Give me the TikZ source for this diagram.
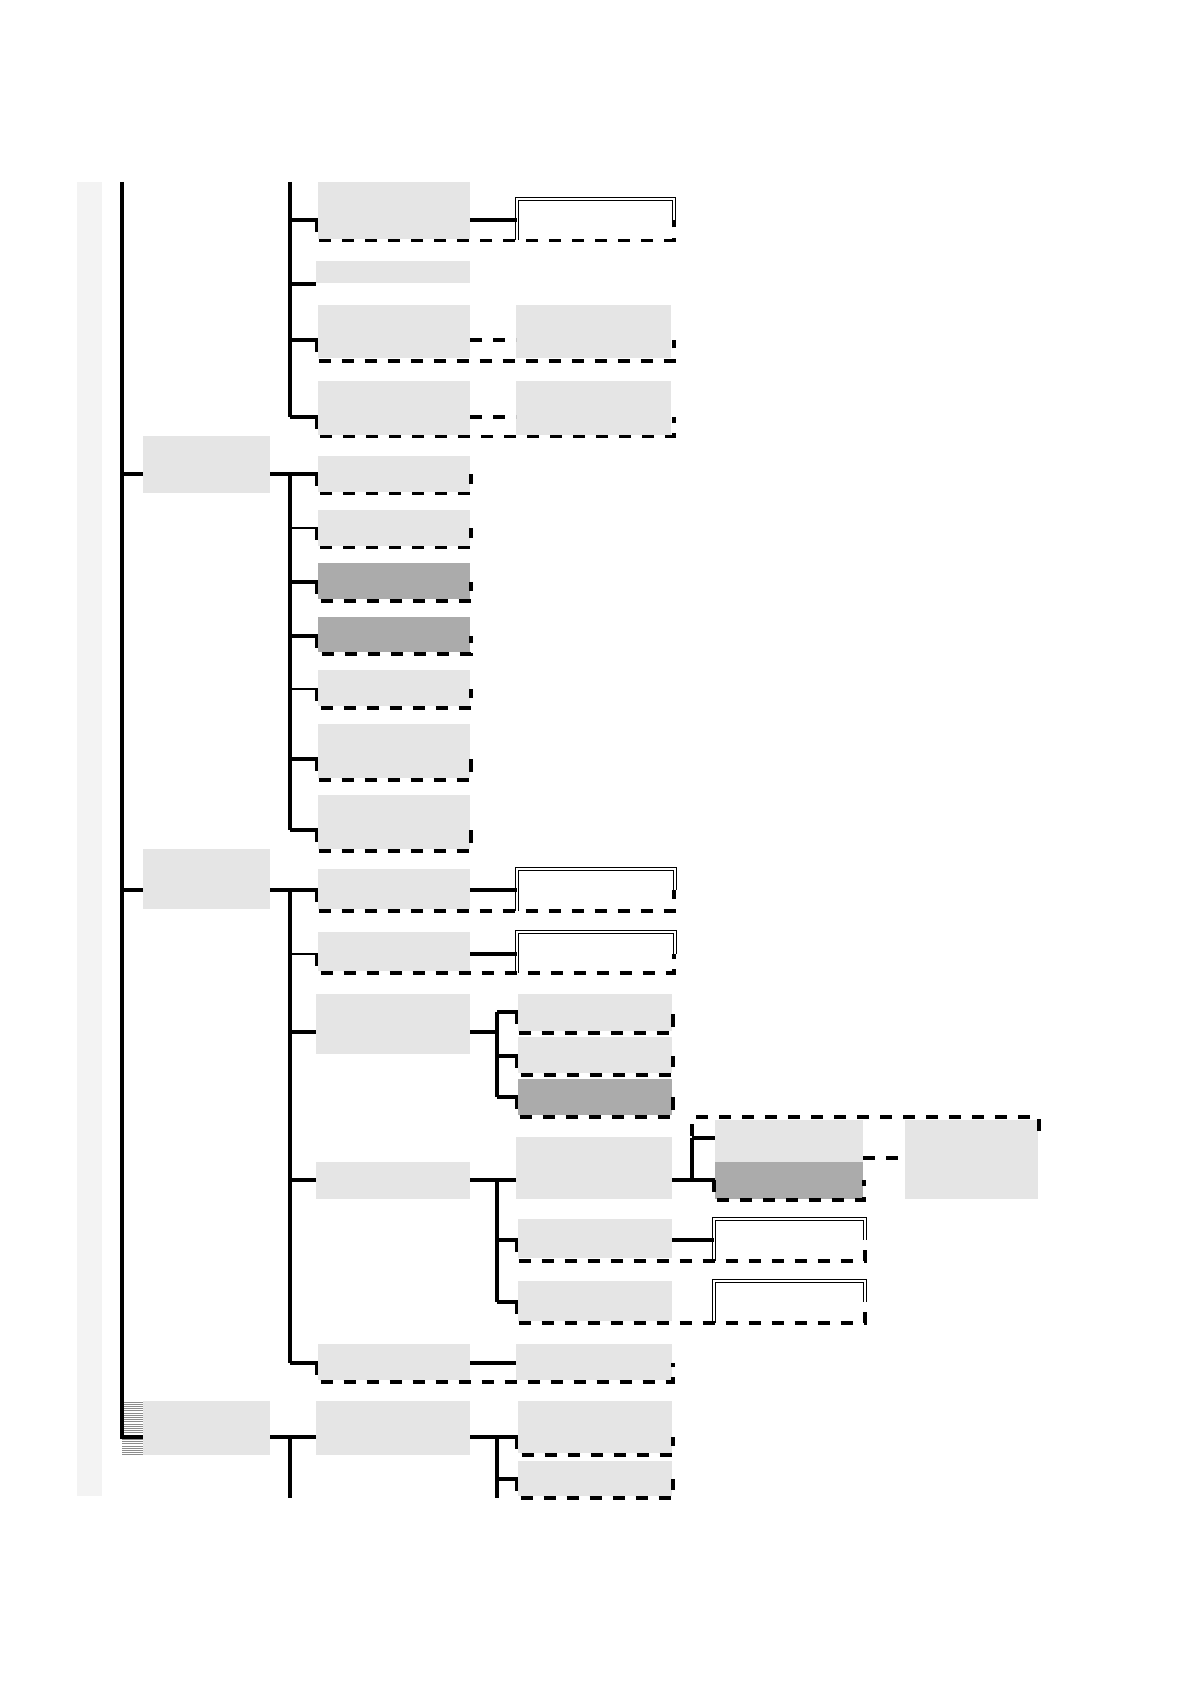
\documentclass[tikz,border=0pt]{standalone}
\usetikzlibrary{fit}
\definecolor{boxgray}{HTML}{E5E5E5}
\definecolor{stripgray}{HTML}{F3F3F3}
\definecolor{darkgray2}{HTML}{ABABAB}
\definecolor{hatchline}{HTML}{8C8C8C}
\newcommand\ubox[4]{\draw[dsh] (#1,#3) -- (#1,#4) -- (#2,#4) -- (#2,#3);}
\begin{document}
\begin{tikzpicture}[x=0.5pt,y=-0.5pt,
  gbox/.style={fill=boxgray, draw=none, inner sep=0pt, outer sep=0pt},
  hbox/.style={fill=darkgray2, draw=none, inner sep=0pt, outer sep=0pt},
  conn/.style={line width=1.6pt},
  thinconn/.style={line width=1.1pt},
  dsh/.style={line width=1.75pt, dash pattern=on 6.2pt off 5.3pt},
  dbl/.style={draw=black, double=white, line width=0.5pt, double distance=0.7pt}]
\useasboundingbox (0,0) rectangle (1190,1684);
% left strip
\node[fill=stripgray, draw=none, inner sep=0pt, fit={(77,182) (102,1496)}] (strip) {};
% level-1 boxes
\node[gbox, fit={(143,436) (270,493)}] (L1a) {};
\node[gbox, fit={(143,849) (270,909)}] (L1b) {};
\node[gbox, fit={(143,1401) (270,1455)}] (L1c) {};
\foreach \yy in {1402,1404.2,...,1455} \draw[hatchline, line width=0.45pt] (122,\yy) -- (143,\yy);
% ---------- group 1 ----------
\node[gbox, fit={(318,182) (470,239)}] (g1a) {};
\node[gbox, fit={(316,261) (470,283)}] (g1b) {};
\node[gbox, fit={(318,305) (470,358)}] (g1c) {};
\node[gbox, fit={(516,305) (671,358)}] (g1cx) {};
\node[gbox, fit={(318,381) (470,435)}] (g1d) {};
\node[gbox, fit={(516,381) (671,435)}] (g1dx) {};
\coordinate (g1aD) at (517,220);
\draw[dbl] (517,240) -- (517,199) -- (674,199) -- (674,220);
% ---------- group 2 ----------
\node[gbox, fit={(318,456) (470,492)}] (g2a) {};
\node[gbox, fit={(318,510) (470,546)}] (g2b) {};
\node[hbox, fit={(318,563) (470,599)}] (g2c) {};
\node[hbox, fit={(318,617) (470,652)}] (g2d) {};
\node[gbox, fit={(318,670) (470,706)}] (g2e) {};
\node[gbox, fit={(318,724) (470,778)}] (g2f) {};
\node[gbox, fit={(318,795) (470,849)}] (g2g) {};
% ---------- group 3 ----------
\node[gbox, fit={(318,869) (470,909)}] (g3a) {};
\node[gbox, fit={(318,932) (470,971)}] (g3b) {};
\node[gbox, fit={(316,994) (470,1054)}] (g3c) {};
\node[gbox, fit={(518,994) (672,1031)}] (g3c1) {};
\node[gbox, fit={(518,1037) (672,1073)}] (g3c2) {};
\node[hbox, fit={(518,1079) (672,1115)}] (g3c3) {};
\node[gbox, fit={(316,1162) (470,1199)}] (g3d) {};
\node[gbox, fit={(516,1137) (672,1199)}] (g3d1) {};
\node[gbox, fit={(715,1120) (863,1162)}] (g3d1a) {};
\node[hbox, fit={(715,1162) (863,1199)}] (g3d1b) {};
\node[gbox, fit={(905,1120) (1038,1199)}] (g3d1c) {};
\node[gbox, fit={(518,1219) (672,1258)}] (g3d2) {};
\node[gbox, fit={(518,1281) (672,1321)}] (g3d3) {};
\node[gbox, fit={(318,1344) (470,1380)}] (g3e) {};
\node[gbox, fit={(516,1344) (672,1380)}] (g3e1) {};
\draw[dbl] (517,911) -- (517,869) -- (675,869) -- (675,890);
\draw[dbl] (517,973) -- (517,932) -- (675,932) -- (675,954);
\draw[dbl] (714,1261) -- (714,1219) -- (865,1219) -- (865,1240);
\draw[dbl] (714,1323) -- (714,1281) -- (865,1281) -- (865,1302);
% ---------- group 4 ----------
\node[gbox, fit={(316,1401) (470,1455)}] (g4a) {};
\node[gbox, fit={(518,1401) (672,1453)}] (g4a1) {};
\node[gbox, fit={(518,1461) (672,1496)}] (g4a2) {};
% ---------- dashed outlines ----------
\ubox{316.5}{674}{220}{240.5}
\ubox{316.5}{674}{340}{361}
\ubox{316.5}{674}{417}{436.5}
\ubox{316.5}{471}{474}{493.5}
\ubox{316.5}{471}{528}{547.5}
\ubox{316.5}{471}{582}{601}
\ubox{316.5}{471}{636}{654}
\ubox{316.5}{471}{689}{708}
\ubox{316.5}{471}{759}{780}
\ubox{316.5}{471}{830}{851}
\ubox{316.5}{674}{890}{911}
\ubox{316.5}{674}{954}{973}
\ubox{516.5}{673}{1012}{1033}
\ubox{516.5}{673}{1056}{1075}
\ubox{516.5}{673}{1097}{1117}
\ubox{714}{864}{1180}{1200}
\draw[dsh] (692,1136) -- (692,1117) -- (1039,1117) -- (1039,1136);
\ubox{516.5}{865}{1240}{1261}
\ubox{516.5}{865}{1302}{1323}
\ubox{316.5}{673}{1363}{1382}
\ubox{516.5}{673}{1437}{1455}
\ubox{516.5}{673}{1479}{1498}
% dashed connectors
\draw[dsh] (g1c.east |- 0,340) -- (g1cx.west |- 0,340);
\draw[dsh] (g1d.east |- 0,417) -- (g1dx.west |- 0,417);
\draw[dsh] (g3d1a.east |- 0,1158) -- (g3d1c.west |- 0,1158);
% ---------- solid connectors ----------
\draw[conn] (122,182) -- (122,1437) -- (L1c.west |- 0,1437);
\draw[conn] (122,474) -- (L1a.west |- 0,474);
\draw[conn] (122,890) -- (L1b.west |- 0,890);
% group 1 bus
\draw[conn] (290,182) -- (290,417);
\draw[conn] (290,220) -- (g1a.west |- 0,220);
\draw[conn] (290,284) -- (g1b.west |- 0,284);
\draw[conn] (290,340) -- (g1c.west |- 0,340);
\draw[conn] (290,417) -- (g1d.west |- 0,417);
\draw[conn] (g1a.east |- 0,220) -- (g1aD);
% group 2 bus
\draw[conn] (L1a.east |- 0,474) -- (g2a.west |- 0,474);
\draw[conn] (290,474) -- (290,830);
\draw[thinconn] (290,528) -- (g2b.west |- 0,528);
\draw[conn] (290,582) -- (g2c.west |- 0,582);
\draw[conn] (290,636) -- (g2d.west |- 0,636);
\draw[thinconn] (290,689) -- (g2e.west |- 0,689);
\draw[conn] (290,759) -- (g2f.west |- 0,759);
\draw[conn] (290,830) -- (g2g.west |- 0,830);
% group 3 bus
\draw[conn] (L1b.east |- 0,890) -- (g3a.west |- 0,890);
\draw[conn] (290,890) -- (290,1363);
\draw[thinconn] (290,954) -- (g3b.west |- 0,954);
\draw[conn] (290,1032) -- (g3c.west |- 0,1032);
\draw[conn] (290,1180) -- (g3d.west |- 0,1180);
\draw[conn] (290,1363) -- (g3e.west |- 0,1363);
\draw[conn] (g3a.east |- 0,890) -- (517,890);
\draw[conn] (g3b.east |- 0,954) -- (517,954);
\draw[conn] (g3c.east |- 0,1032) -- (497,1032);
\draw[conn] (497,1012) -- (497,1097);
\draw[conn] (497,1012) -- (g3c1.west |- 0,1012);
\draw[conn] (497,1056) -- (g3c2.west |- 0,1056);
\draw[conn] (497,1097) -- (g3c3.west |- 0,1097);
\draw[conn] (g3d.east |- 0,1180) -- (g3d1.west |- 0,1180);
\draw[conn] (497,1180) -- (497,1302);
\draw[conn] (497,1240) -- (g3d2.west |- 0,1240);
\draw[conn] (497,1302) -- (g3d3.west |- 0,1302);
\draw[conn] (g3d1.east |- 0,1180) -- (g3d1b.west |- 0,1180);
\draw[conn] (692,1138) -- (692,1180);
\draw[conn] (692,1138) -- (g3d1a.west |- 0,1138);
\draw[conn] (g3d2.east |- 0,1240) -- (714,1240);
\draw[conn] (g3e.east |- 0,1363) -- (g3e1.west |- 0,1363);
% group 4 bus
\draw[conn] (L1c.east |- 0,1437) -- (g4a.west |- 0,1437);
\draw[conn] (290,1437) -- (290,1498);
\draw[conn] (g4a.east |- 0,1437) -- (g4a1.west |- 0,1437);
\draw[conn] (497,1437) -- (497,1498);
\draw[conn] (497,1479) -- (g4a2.west |- 0,1479);
\end{tikzpicture}
\end{document}
